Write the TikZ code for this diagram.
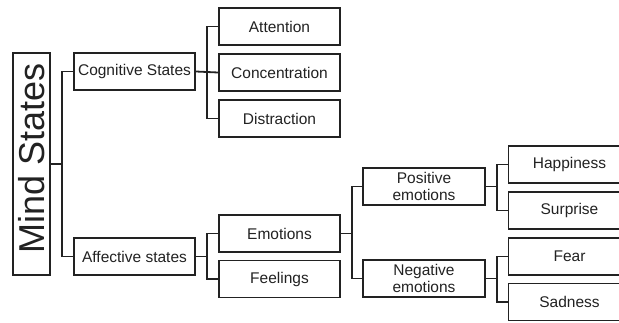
\documentclass[tikz,border=0pt]{standalone}
\usepackage{fontspec}
\setmainfont{Liberation Sans}
\definecolor{ink}{HTML}{222222}
\begin{document}
\begin{tikzpicture}[x=1pt,y=-1pt,
  box/.style={draw=ink,line width=1.8pt,fill=white,minimum width=121pt,minimum height=37pt,inner sep=0pt,
    font=\fontsize{15.5}{17}\selectfont,text=ink,align=center},
  link/.style={draw=ink,line width=1.8pt}]
\useasboundingbox (0,0) rectangle (619,322);
\clip (0,0) rectangle (619,322);
\node[draw=ink,line width=1.8pt,minimum width=37pt,minimum height=222pt,inner sep=0pt] (mind) at (31.5,164) {};
\node[rotate=90,inner sep=0pt,font=\fontsize{36}{40}\selectfont,text=ink] (mindtxt) at (31.5,158.5) {Mind States};
\node[box] (cog) at (134.5,71.5) {Cognitive States};
\node[box] (att) at (279.5,26.5) {Attention};
\node[box] (conc) at (279.5,72.5) {Concentration};
\node[box] (dist) at (279.5,118.5) {Distraction};
\node[box] (aff) at (134.5,256.5) {Affective states};
\node[box] (emo) at (279.5,233.5) {Emotions};
\node[box] (feel) at (279.5,279) {Feelings};
\node[box,minimum width=122pt] (pos) at (424,186.5) {Positive\\emotions};
\node[box,minimum width=122pt] (neg) at (424,278.5) {Negative\\emotions};
\node[box,minimum width=122pt] (hap) at (569.5,164.5) {Happiness};
\node[box,minimum width=122pt] (sur) at (569.5,210.5) {Surprise};
\node[box,minimum width=122pt] (fear) at (569.5,256.5) {Fear};
\node[box,minimum width=122pt] (sad) at (569.5,302) {Sadness};
\coordinate (b1) at (62,0);
\coordinate (b2) at (207,0);
\coordinate (b3) at (352,0);
\coordinate (b4) at (497,0);
% Mind States
\draw[link] (mind.east) -- (mind.east -| b1);
\draw[link] (cog.west) -- (cog.west -| b1) -- (aff.west -| b1) -- (aff.west);
% Cognitive
\draw[link] (cog.east) -- (conc.west);
\draw[link] (att.west) -- (att.west -| b2) -- (dist.west -| b2) -- (dist.west);
% Affective
\draw[link] (aff.east) -- (aff.east -| b2);
\draw[link] (emo.west) -- (emo.west -| b2) -- (feel.west -| b2) -- (feel.west);
% Emotions
\draw[link] (emo.east) -- (emo.east -| b3);
\draw[link] (pos.west) -- (pos.west -| b3) -- (neg.west -| b3) -- (neg.west);
% Positive
\draw[link] (pos.east) -- (pos.east -| b4);
\draw[link] (hap.west) -- (hap.west -| b4) -- (sur.west -| b4) -- (sur.west);
% Negative
\draw[link] (neg.east) -- (neg.east -| b4);
\draw[link] (fear.west) -- (fear.west -| b4) -- (sad.west -| b4) -- (sad.west);
\end{tikzpicture}
\end{document}
